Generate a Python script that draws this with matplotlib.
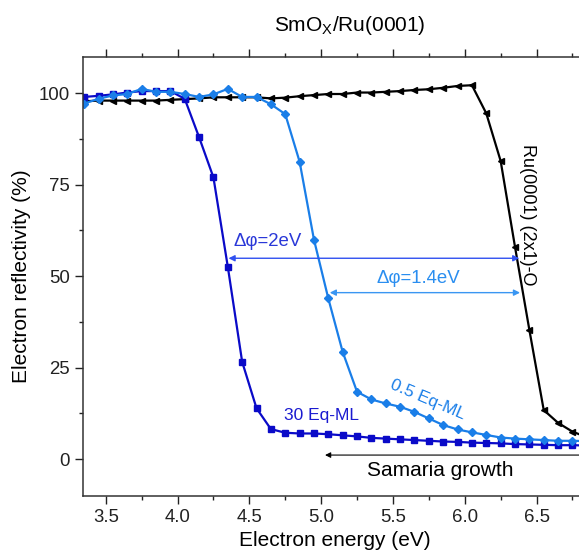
import numpy as np
import matplotlib
matplotlib.use('Agg')
import matplotlib.pyplot as plt
from matplotlib.ticker import MultipleLocator

plt.rcParams['font.family'] = ['Liberation Sans', 'DejaVu Sans']
plt.rcParams['mathtext.fontset'] = 'custom'
plt.rcParams['mathtext.rm'] = 'Liberation Sans'

# energies on a 0.1 eV grid
energy = np.round(np.arange(3.35, 6.86, 0.1), 2)

ml30 = [99.0, 99.3, 99.7, 100.2, 100.6, 100.6, 100.6, 98.5, 88.0, 77.0,
        52.6, 26.6, 13.9, 8.2, 7.2, 7.0, 7.0, 6.8, 6.5, 6.2,
        5.8, 5.6, 5.4, 5.2, 5.0, 4.8, 4.7, 4.5, 4.4, 4.3,
        4.1, 4.0, 3.9, 3.8, 3.8, 3.7]

ml05 = [97.2, 98.5, 99.4, 99.8, 101.2, 100.4, 100.4, 99.8, 99.0, 99.7,
        101.2, 99.0, 99.0, 97.0, 94.3, 81.3, 60.0, 43.9, 29.3, 18.4,
        16.3, 15.2, 14.3, 12.9, 11.1, 9.3, 8.1, 7.3, 6.6, 5.9,
        5.6, 5.4, 5.2, 5.0, 5.0, 4.9]

ru_o = [97.8, 98.0, 98.0, 98.0, 98.0, 98.0, 98.2, 98.4, 98.6, 98.9,
        98.9, 98.9, 98.9, 98.6, 98.8, 99.2, 99.5, 99.8, 99.8, 100.2,
        100.2, 100.4, 100.6, 100.9, 101.1, 101.5, 102.0, 102.2, 94.5, 81.5,
        58.0, 35.3, 13.4, 9.9, 7.5, 6.0]

dark = '#0a0ac8'
light = '#1a7ee8'

fig = plt.figure(figsize=(5.79, 5.58), dpi=100)
ax = fig.add_axes([0.1439, 0.1117, 0.8696, 0.7867])

ax.plot(energy, ru_o, color='black', lw=1.6, marker='<', ms=5)
ax.plot(energy, ml30, color=dark, lw=1.6, marker='s', ms=4)
ax.plot(energy, ml05, color=light, lw=1.6, marker='D', ms=4)

ax.set_xlim(3.344, 6.85)
ax.set_ylim(-10, 110)
ax.xaxis.set_major_locator(MultipleLocator(0.5))
ax.xaxis.set_minor_locator(MultipleLocator(0.25))
ax.yaxis.set_major_locator(MultipleLocator(25))
ax.yaxis.set_minor_locator(MultipleLocator(12.5))
ax.tick_params(which='both', direction='out', width=1.0, labelsize=13.4,
               top=True, labeltop=False, colors='#222222')
ax.tick_params(which='major', length=6)
ax.tick_params(which='minor', length=3)
for sp in ax.spines.values():
    sp.set_linewidth(1.1)
    sp.set_color('#333333')

ax.set_xlabel('Electron energy (eV)', fontsize=15, labelpad=4)
ax.set_ylabel('Electron reflectivity (%)', fontsize=15, labelpad=6)
fig.text(0.605, 0.955, 'SmO$_\\mathregular{X}$/Ru(0001)', fontsize=15,
         ha='center', va='center')

# work function shifts
ax.annotate('', xy=(4.355, 54.9), xytext=(6.38, 54.9),
            arrowprops=dict(arrowstyle='<|-|>', color='#3050f0', lw=1.0,
                            mutation_scale=9, shrinkA=0, shrinkB=0))
ax.text(4.63, 59.5, '\u0394\u03c6=2eV', color='#2a38d8', fontsize=13.4,
        ha='center', va='center')
ax.annotate('', xy=(5.06, 45.5), xytext=(6.385, 45.5),
            arrowprops=dict(arrowstyle='<|-|>', color='#3a96f2', lw=1.0,
                            mutation_scale=9, shrinkA=0, shrinkB=0))
ax.text(5.68, 49.5, '\u0394\u03c6=1.4eV', color='#2a8ef0', fontsize=13.4,
        ha='center', va='center')

ax.text(5.0, 12.0, '30 Eq-ML', color='#1a1ad0', fontsize=12.5,
        ha='center', va='center')
ax.text(5.745, 16.1, '0.5 Eq-ML', color=light, fontsize=12.5,
        ha='center', va='center', rotation=-23, rotation_mode='anchor')
ax.text(6.44, 66.7, 'Ru(0001) (2x1)-O', color='black', fontsize=13,
        ha='center', va='center', rotation=270)

ax.annotate('', xy=(5.027, 1.1), xytext=(6.9, 1.1),
            arrowprops=dict(arrowstyle='-|>', color='black', lw=0.8,
                            mutation_scale=8, shrinkA=0, shrinkB=0),
            annotation_clip=False)
ax.text(5.83, -3.0, 'Samaria growth', fontsize=15, ha='center', va='center')

fig.savefig('out.png', dpi=100)
